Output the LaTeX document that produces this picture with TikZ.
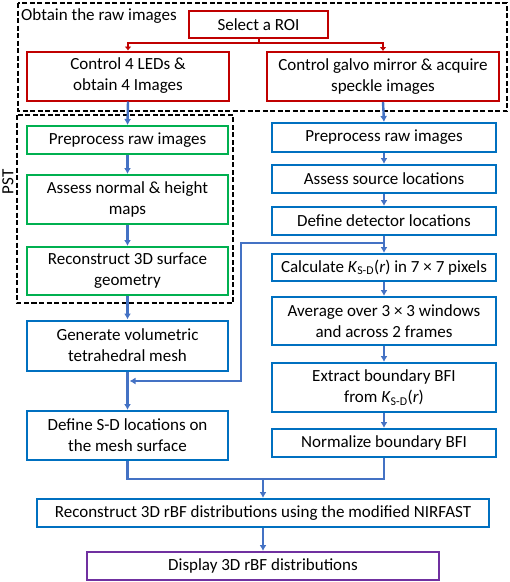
\documentclass[tikz,border=0pt]{standalone}
\usepackage{fontspec}
\setmainfont{Carlito}
\usetikzlibrary{arrows.meta}
\definecolor{roired}{HTML}{C00000}
\definecolor{pstgreen}{HTML}{00B050}
\definecolor{boxblue}{HTML}{0070C0}
\definecolor{arrblue}{HTML}{4472C4}
\definecolor{outpurple}{HTML}{7030A0}
\tikzset{
	box/.style={draw, line width=2pt, fill=white, align=center, inner sep=1pt, font=\fontsize{17}{21}\selectfont},
	redbox/.style={box, draw=roired},
	greenbox/.style={box, draw=pstgreen},
	bluebox/.style={box, draw=boxblue},
	purplebox/.style={box, draw=outpurple},
	arrline/.style={draw=arrblue, line width=2.4pt, -{Latex[length=6pt,width=7pt]}},
	redline/.style={draw=roired, line width=2pt, -{Latex[length=4pt,width=7pt]}},
	groupbox/.style={draw, dash pattern=on 5pt off 2.5pt, line width=1.8pt},
}

\begin{document}
\begin{tikzpicture}[x=1pt, y=-1pt]
				%%%%% FRAME %%%%%
				\useasboundingbox (0, 0) rectangle (510, 582);
				
				%%%%% GROUPS %%%%%
				\draw[groupbox] (18, 3) rectangle (507, 111);
				\node[anchor=west, font=\fontsize{17}{21}\selectfont, inner sep=0pt] (rawlabel) at (21, 16) {Obtain the raw images};
				\draw[groupbox] (17, 115) rectangle (233, 303);
				\node[rotate=90, font=\fontsize{17}{21}\selectfont, inner sep=0pt] (pstlabel) at (8, 182) {PST};
				
				%%%%% ACQUISITION %%%%%
				\node[redbox, minimum width=139pt, minimum height=27pt] (roi) at (258.5, 24.5) {Select a ROI};
				\node[redbox, minimum width=202pt, minimum height=49pt] (leds) at (128, 76) {Control 4 LEDs \&\\obtain 4 Images};
				\node[redbox, minimum width=232pt, minimum height=49pt] (galvo) at (383, 76.5) {Control galvo mirror \& acquire\\speckle images};
				
				%%%%% LEFT COLUMN %%%%%
				\node[greenbox, minimum width=201pt, minimum height=28pt] (prepst) at (127.5, 140) {Preprocess raw images};
				\node[greenbox, minimum width=201pt, minimum height=49pt] (normal) at (127.5, 199.5) {Assess normal \& height\\maps};
				\node[greenbox, minimum width=201pt, minimum height=48pt] (surface) at (127.5, 271) {Reconstruct 3D surface\\geometry};
				\node[bluebox, minimum width=201pt, minimum height=50pt] (mesh) at (127.5, 345.5) {Generate volumetric\\tetrahedral mesh};
				\node[bluebox, minimum width=201pt, minimum height=49pt] (sdloc) at (127.5, 435.5) {Define S-D locations on\\the mesh surface};
				
				%%%%% RIGHT COLUMN %%%%%
				\node[bluebox, minimum width=224pt, minimum height=29pt] (prespk) at (384, 137.5) {Preprocess raw images};
				\node[bluebox, minimum width=224pt, minimum height=28pt] (source) at (384, 179) {Assess source locations};
				\node[bluebox, minimum width=224pt, minimum height=28pt] (detector) at (384, 221) {Define detector locations};
				\node[bluebox, minimum width=224pt, minimum height=27pt] (ksd) at (384, 267.5) {Calculate \textit{K}\textsubscript{S-D}(\textit{r}) in 7 × 7 pixels};
				\node[bluebox, minimum width=224pt, minimum height=48pt] (average) at (384, 321) {Average over 3 × 3 windows\\and across 2 frames};
				\node[bluebox, minimum width=224pt, minimum height=49pt] (bfi) at (384, 387.5) {Extract boundary BFI\\from \textit{K}\textsubscript{S-D}(\textit{r})};
				\node[bluebox, minimum width=224pt, minimum height=28pt] (normbfi) at (384, 443) {Normalize boundary BFI};
				
				%%%%% BOTTOM %%%%%
				\node[bluebox, minimum width=452pt, minimum height=28pt] (recon) at (263, 513) {Reconstruct 3D rBF distributions using the modified NIRFAST};
				\node[purplebox, minimum width=352pt, minimum height=28pt] (display) at (263, 566) {Display 3D rBF distributions};
				
				%%%%% CONNECTORS %%%%%
				\coordinate (roisplit) at (258.5, 43);
				\draw[roired, line width=2pt] (roi.south) -- (roisplit);
				\draw[redline] (roisplit) -| (leds.north);
				\draw[redline] (roisplit) -| (galvo.north);
				
				\draw[arrline] (leds.south) -- (prepst.north);
				\draw[arrline] (prepst.south) -- (normal.north);
				\draw[arrline] (normal.south) -- (surface.north);
				\draw[arrline] (surface.south) -- (mesh.north);
				\draw[arrline] (mesh.south) -- (sdloc.north);
				
				\draw[arrline] (galvo.south) -- (prespk.north);
				\draw[arrline] (prespk.south) -- (source.north);
				\draw[arrline] (source.south) -- (detector.north);
				\draw[arrline] (detector.south) -- (ksd.north);
				\draw[arrline] (ksd.south) -- (average.north);
				\draw[arrline] (average.south) -- (bfi.north);
				\draw[arrline] (bfi.south) -- (normbfi.north);
				
				\coordinate (detsplit) at (384, 243);
				\coordinate (crossturn) at (241, 381);
				\coordinate (meshjoin) at (129.5, 381);
				\draw[arrline] (detsplit) -| (crossturn) -- (meshjoin);
				
				\coordinate (merge) at (263, 479);
				\draw[draw=arrblue, line width=2.4pt] (sdloc.south) |- (merge) -| (normbfi.south);
				\draw[arrline] (merge) -- (recon.north);
				\draw[arrline] (recon.south) -- (display.north);
				%%%%% END %%%%%
\end{tikzpicture}
\end{document}
